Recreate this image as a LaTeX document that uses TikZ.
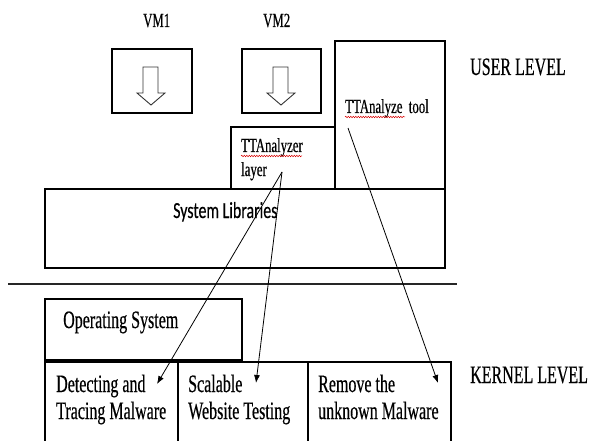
\documentclass[tikz,border=0pt]{standalone}
\usepackage{fontspec}
\setmainfont{Liberation Serif}
\newfontfamily\tnrbig[FakeStretch=0.64,FakeBold=0.4]{Liberation Serif}
\newfontfamily\calib[FakeStretch=0.69,FakeBold=0.3]{Carlito}
\usetikzlibrary{arrows.meta,decorations.pathmorphing}
\begin{document}
\begin{tikzpicture}[x=1pt,y=-1pt,
  box/.style={draw=black,line width=1.3pt,inner sep=0pt,outer sep=0pt},
  bigtxt/.style={font=\tnrbig\fontsize{25}{25}\selectfont,inner sep=0pt,anchor=base west,text=black},
  smalltxt/.style={font=\tnrbig\fontsize{20}{20}\selectfont,inner sep=0pt,anchor=base west,text=black},
  libtxt/.style={font=\calib\fontsize{23}{23}\selectfont,inner sep=0pt,anchor=base west,text=black},
  conn/.style={draw=black,line width=0.8pt,-{Latex[length=8pt,width=6pt]}},
  hollow/.style={draw=black!80,line width=0.9pt,fill=white,line join=miter},
  squiggle/.style={draw=red!85!black,line width=0.5pt,decorate,decoration={snake,amplitude=0.7pt,segment length=2.5pt}}
]
\useasboundingbox (0,0) rectangle (589,441);
\clip (0,0) rectangle (589,441);
\fill[white] (0,0) rectangle (589,441);

% upper boxes
\node[box,minimum width=80pt,minimum height=64pt] (vm1) at (152,81) {};
\node[box,minimum width=79pt,minimum height=64pt] (vm2) at (281.5,81) {};
\node[box,minimum width=104pt,minimum height=62pt] (layer) at (283,158) {};
\node[box,minimum width=110pt,minimum height=148pt] (tool) at (390,115) {};
\node[box,minimum width=400pt,minimum height=79pt] (syslib) at (245,228.5) {};

% lower boxes
\node[box,minimum width=197pt,minimum height=61pt] (os) at (143.5,329.5) {};
\node[box,minimum width=133pt,minimum height=90pt,anchor=north west] (k1) at (45,362) {};
\node[box,minimum width=130pt,minimum height=90pt,anchor=north west] (k2) at (178,362) {};
\node[box,minimum width=143pt,minimum height=90pt,anchor=north west] (k3) at (308,362) {};

% separator
\coordinate (sepL) at (8,284);
\coordinate (sepR) at (457,284);
\draw[line width=1.3pt,black!85] (sepL) -- (sepR);

% hollow arrows inside VM boxes
\draw[hollow] (143,67) -- (158,67) -- (158,93) -- (165,93) -- (151,105) -- (137,93) -- (143,93) -- cycle;
\draw[hollow] (273,67) -- (288,67) -- (288,93) -- (295,93) -- (281,105) -- (267,93) -- (273,93) -- cycle;

% labels
\node[smalltxt] (vm1lbl) at (143,27) {VM1};
\node[smalltxt] (vm2lbl) at (263,27) {VM2};
\node[bigtxt] (userlvl) at (470,75) {USER LEVEL};
\node[smalltxt] (toollbl) at (345,113) {TTAnalyze\ \ tool};
\node[smalltxt] (layer1) at (241,152) {TTAnalyzer};
\node[smalltxt] (layer2) at (241,176) {layer};
\node[libtxt] (liblbl) at (173,218) {System Libraries};
\node[bigtxt] (oslbl) at (63,328) {Operating System};
\node[bigtxt] (k1a) at (56,392) {Detecting and};
\node[bigtxt] (k1b) at (56,419) {Tracing Malware};
\node[bigtxt] (k2a) at (188,392) {Scalable};
\node[bigtxt] (k2b) at (188,419) {Website Testing};
\node[bigtxt] (k3a) at (318,392) {Remove the};
\node[bigtxt] (k3b) at (318,419) {unknown Malware};
\node[bigtxt] (kernlvl) at (470,383) {KERNEL LEVEL};

% spell-check squiggles
\draw[squiggle] (345,117) -- (405,117);
\draw[squiggle] (241,156) -- (302,156);

% connectors
\coordinate (s1) at (282,172);
\coordinate (s2) at (348,128);
\coordinate (t1) at (157,384);
\coordinate (t2) at (256,383);
\coordinate (t3) at (438,383);
\draw[conn] (s1) -- (t1);
\draw[conn] (s1) -- (t2);
\draw[conn] (s2) -- (t3);
\end{tikzpicture}
\end{document}
